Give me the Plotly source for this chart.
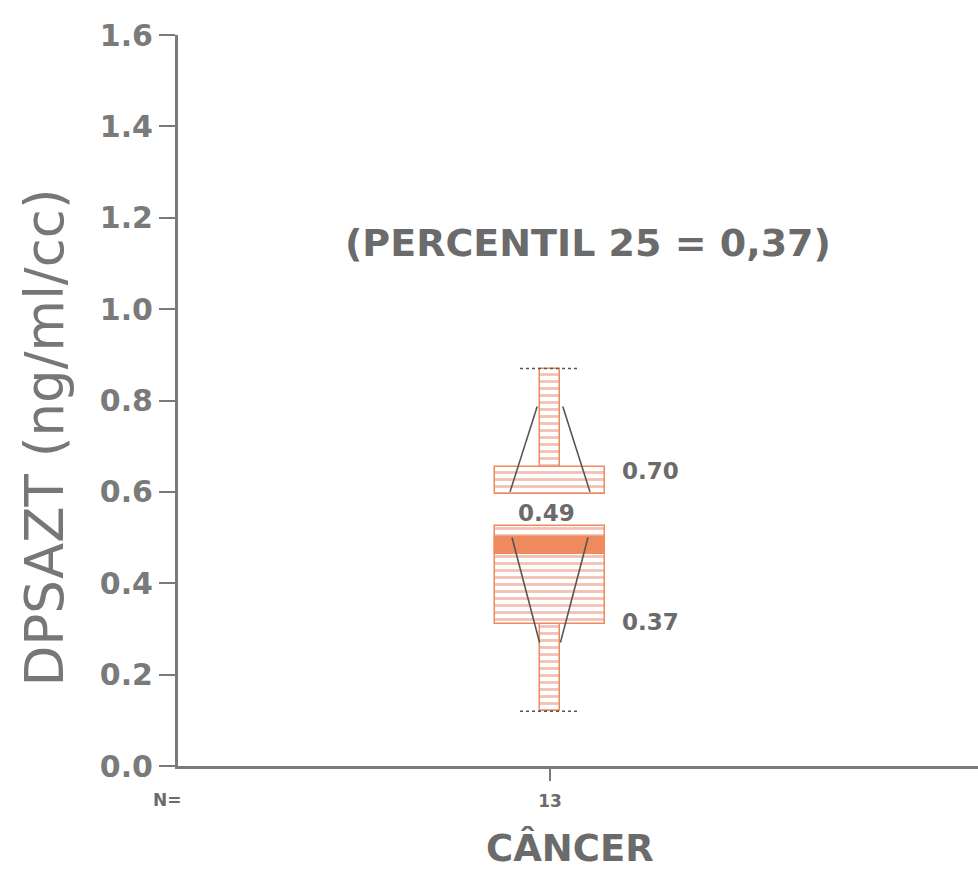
import plotly.graph_objects as go

# ---- data ----
group_n = ["13"]                 # N per group (x tick label)
group_name = "CÂNCER"
whisker_low = [0.12]
whisker_high = [0.87]
lower_box = [0.31, 0.525]        # drawn lower box (bottom, top)
upper_box = [0.595, 0.655]       # drawn upper box (bottom, top)
median_band = [0.465, 0.502]     # solid median band
notch_upper = [0.60, 0.787]      # converging lines above
notch_lower = [0.50, 0.27]       # converging lines below
label_p75 = "0.70"
label_median = "0.49"
label_p25 = "0.37"
note_text = "(PERCENTIL 25 = 0,37)"
y_ticks = [0.0, 0.2, 0.4, 0.6, 0.8, 1.0, 1.2, 1.4, 1.6]
y_title = "DPSAZT (ng/ml/cc)"

# ---- style ----
X0 = 0.93
BOX_W = 0.277
STEM_W = 0.048
CAP_W = 0.15
ORANGE = "#ee8a5e"
GRAY = "#6b6b6b"
DARK = "#555555"
FONT_B = "DejaVu Sans"

fig = go.Figure()

pat = dict(shape="-", fgcolor="#e4866a", bgcolor="white", size=7, solidity=0.4)

def hbar(lo, hi, w, solid=False):
    marker = dict(color=ORANGE, line=dict(color=ORANGE, width=1.5))
    if not solid:
        marker["pattern"] = pat
        marker["color"] = "white"
    fig.add_trace(go.Bar(x=[X0], y=[hi - lo], base=[lo], width=w,
                         marker=marker, showlegend=False, hoverinfo="skip"))

# whisker stems
hbar(upper_box[1] - 0.01, whisker_high[0], STEM_W)
hbar(whisker_low[0], lower_box[0], STEM_W)
# boxes
hbar(upper_box[0], upper_box[1], BOX_W)
hbar(lower_box[0], lower_box[1], BOX_W)
hbar(median_band[0], median_band[1], BOX_W, solid=True)

# caps
for v in (whisker_high[0], whisker_low[0]):
    fig.add_trace(go.Scatter(x=[X0 - CAP_W / 2, X0 + CAP_W / 2], y=[v, v], mode="lines",
                             line=dict(color=DARK, width=1.5, dash="dot"),
                             showlegend=False, hoverinfo="skip"))

# notch-like converging lines
up_spread = [0.1, 0.032]
lo_spread = [0.095, 0.026]
for sgn in (-1, 1):
    fig.add_trace(go.Scatter(x=[X0 + sgn * up_spread[0], X0 + sgn * up_spread[1]],
                             y=notch_upper, mode="lines",
                             line=dict(color=DARK, width=1.6),
                             showlegend=False, hoverinfo="skip"))
    fig.add_trace(go.Scatter(x=[X0 + sgn * lo_spread[0], X0 + sgn * lo_spread[1]],
                             y=notch_lower, mode="lines",
                             line=dict(color=DARK, width=1.6),
                             showlegend=False, hoverinfo="skip"))

ann_font = dict(family=FONT_B, size=23, color=GRAY, weight="bold")
fig.add_annotation(x=X0 + 0.175, y=upper_box[1], text=label_p75, showarrow=False,
                   xanchor="left", yanchor="middle", font=ann_font, yshift=-4)
fig.add_annotation(x=X0 - 0.01, y=lower_box[1], text=label_median, showarrow=False,
                   xanchor="center", yanchor="bottom", font=ann_font, yshift=-2)
fig.add_annotation(x=X0 + 0.175, y=lower_box[0], text=label_p25, showarrow=False,
                   xanchor="left", yanchor="middle", font=ann_font, yshift=2)
fig.add_annotation(x=0.513, y=1.145, text=note_text, showarrow=False,
                   xref="paper", yref="y", xanchor="center", yanchor="middle",
                   font=dict(family=FONT_B, size=38, color=GRAY, weight="bold"))
fig.add_annotation(x=-0.014, y=-0.047, xref="paper", yref="paper", text="N=",
                   showarrow=False, font=dict(family=FONT_B, size=17, color=GRAY, weight="bold"),
                   xanchor="center", yanchor="middle")
fig.add_annotation(x=0.49, y=-0.112, xref="paper", yref="paper", text=group_name,
                   showarrow=False, font=dict(family=FONT_B, size=37, color=GRAY, weight="bold"),
                   xanchor="center", yanchor="middle", borderpad=0)
fig.add_annotation(x=-0.167, y=0.45, xref="paper", yref="paper", text=y_title,
                   showarrow=False, textangle=-90,
                   font=dict(family="DejaVu Sans", size=53, color="#777777"),
                   xanchor="center", yanchor="middle")

fig.update_layout(
    width=978, height=873,
    margin=dict(l=178, r=0, t=35, b=107),
    plot_bgcolor="white", paper_bgcolor="white",
    barmode="overlay", bargap=0,
    showlegend=False,
)
fig.update_xaxes(range=[0, 2], tickvals=[X0], ticktext=group_n,
                 showline=True, linecolor="#7a7a7a", linewidth=3,
                 ticks="outside", ticklen=12, tickwidth=2, tickcolor="#7a7a7a",
                 showgrid=False, zeroline=False, ticklabelstandoff=6,
                 tickfont=dict(family=FONT_B, size=17, color=GRAY, weight="bold"))
fig.update_yaxes(range=[0, 1.6], tickvals=y_ticks, tickformat=".1f",
                 showline=True, linecolor="#7a7a7a", linewidth=3,
                 ticks="outside", ticklen=16, tickwidth=2, tickcolor="#7a7a7a",
                 showgrid=False, zeroline=False, ticklabelstandoff=0,
                 tickfont=dict(family=FONT_B, size=30, color="#7a7a7a", weight="bold"))

fig.write_html("out.html")
